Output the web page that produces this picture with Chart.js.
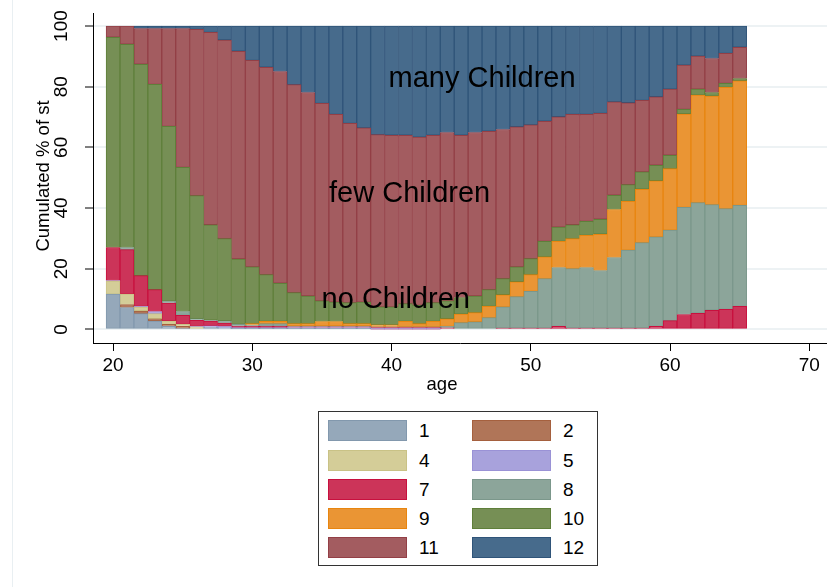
<!DOCTYPE html>
<html>
<head>
<meta charset="utf-8">
<script src="https://cdn.jsdelivr.net/npm/chart.js@4.4.1/dist/chart.umd.min.js"></script>
<style>
  html, body { margin: 0; padding: 0; background: #fff; }
  #wrap { position: relative; width: 827px; height: 587px; overflow: hidden;
          font-family: "Liberation Sans", Arial, sans-serif; }
  #edge { position: absolute; left: 12px; top: 0; width: 0; height: 587px; border-left: 1px solid #e9eff2; }
  #chart { position: absolute; left: 0; top: 0; }
  #legend { position: absolute; left: 318px; top: 411px; width: 278px; height: 153px;
            border: 1px solid #333; background: #fff; }
  .item { position: absolute; height: 21px; display: flex; align-items: center; }
  .sw { width: 77px; height: 19px; border: 1px solid; box-sizing: content-box; }
  .lab { font-size: 19px; color: #000; margin-left: 12px; line-height: 21px; }
</style>
</head>
<body>
<div id="wrap">
  <div id="edge"></div>
  <canvas id="chart" width="827" height="587"></canvas>
  <div id="legend"></div>
</div>
<script>
const FONT = '"Liberation Sans", Arial, sans-serif';

// age of each bar
const ages = [20,21,22,23,24,25,26,27,28,29,30,31,32,33,34,35,36,37,38,39,
              40,41,42,43,44,45,46,47,48,49,50,51,52,53,54,55,56,57,58,59,
              60,61,62,63,64,65];

// share (%) of each state at each age, ages 20..65
const s1  = [11.6,7.2,5.2,2.75,1.0,0.3,0,0.7,0.5,0.2, 0.2,0.2,0.2,0.2,0.2,0.2,0.2,0.2,0.2,0,
             0,0,0,0,0,0,0,0,0,0, 0,0,0,0,0,0,0,0,0,0, 0,0,0,0,0,0];
const s2  = [0,1.0,0.85,0.75,0.65,0.7,0,0,0,0, 0,0,0,0,0,0,0,0,0,0,
             0,0,0,0,0,0,0,0,0,0, 0,0,0,0,0,0,0,0,0,0, 0,0,0,0,0,0];
const s4  = [4.3,3.4,1.2,1.7,1.1,0.65,0.8,0,0,0, 0,0,0,0,0,0,0,0,0,0,
             0,0,0,0,0,0,0,0,0,0, 0,0,0,0,0,0,0,0,0,0, 0,0,0,0,0,0];
const s5  = [0.2,0,0.35,0.7,0,0,0.2,0.5,0.5,0.35, 0.35,0.35,0.35,0.4,0.4,0.4,0.4,0.4,0.4,0.1,
             0.1,0.1,0.1,0.1,0,0,0,0,0,0, 0,0,0,0,0,0,0,0,0,0, 0,0,0,0,0,0];
const s7  = [10.9,14.7,10.1,7.2,5.95,2.95,2.0,1.5,1.1,0.45, 0.45,0.45,0.45,0.2,0.2,0.2,0.2,0.2,0.2,0.5,
             0.5,0.5,0.5,0.5,0.5,0,0,0,0.4,0.4, 0.4,0.4,1.0,0.4,0.4,0.4,0.4,0.4,0.4,1.0,
             2.9,4.9,5.3,6.3,6.6,7.6];
const s8  = [0,0.7,0,0,0.6,1.3,0.5,0.3,0.65,0.65, 0.4,0.9,0.9,0.3,0.3,0.3,0.3,0.3,0.3,0.2,
             0.2,0.2,0.2,0.2,0.5,2.2,2.5,3.85,7.0,10.4, 12.1,16.3,19.4,19.6,20.0,19.0,23.3,25.7,28.2,29.5,
             29.8,35.3,36.5,34.8,33.2,33.3];
const s9  = [0,0,0,0,0,0,0,0,0,0, 0.5,0.75,0.75,0.8,0.8,1.5,1.5,0.8,0.8,0.7,
             0.7,1.85,1.1,1.85,2.5,2.8,3.0,3.75,4.0,4.9, 5.55,7.2,8.6,9.9,10.6,11.95,15.8,16.1,17.6,18.5,
             20.3,30.8,35.4,35.8,40.0,41.0];
const s10 = [69.3,67.0,69.7,67.65,57.6,47.5,40.6,31.5,27.15,21.55, 18.7,15.4,12.55,10.2,9.1,6.8,6.4,6.9,7.1,5.9,
             5.9,5.85,6.0,6.15,5.9,5.5,5.5,5.5,5.3,4.9, 5.25,5.1,4.7,4.6,4.6,4.95,4.7,5.5,5.7,5.1,
             4.4,1.5,2.0,1.2,1.3,0.8];
const s11 = [3.7,6.0,11.8,18.45,32.3,45.8,54.8,63.4,65.5,68.5, 68.1,68.35,69.8,68.6,67.1,65.1,61.9,59.1,57.4,56.8,
             56.6,55.5,55.5,55.2,55.5,53.5,53.9,52.2,49.2,46.2, 44.1,39.6,36.4,36.4,35.3,34.9,30.8,27.0,23.6,22.6,
             21.8,14.6,10.9,11.2,9.9,10.3];
const s12 = [0,0,0.8,0.8,0.8,0.8,1.1,2.1,4.6,8.3, 11.3,13.6,15.0,19.3,21.9,25.5,29.1,32.1,33.6,35.8,
             36.0,36.0,36.6,36.0,35.1,36.0,35.1,34.7,34.1,33.2, 32.6,31.4,29.9,29.1,29.1,28.8,25.0,25.3,24.5,23.3,
             20.8,12.9,9.9,10.7,9.0,7.0];

const seriesNames  = ['1','2','4','5','7','8','9','10','11','12'];
const seriesValues = [s1, s2, s4, s5, s7, s8, s9, s10, s11, s12];
const fillColors = ['#95a8ba','#b07558','#d4cd98','#a8a2dc','#cc3459','#8ca59a','#ea9534','#768f55','#a35c60','#476b8c'];
const edgeColors = ['#8298ad','#a5603e','#c9c286','#9a92d6','#c8103e','#7b978b','#e8850f','#5f7f3a','#933f46','#2f5479'];

const xTickValues = [20,30,40,50,60,70];
const yTickValues = [0,20,40,60,80,100];

// region captions, placed in data units (age, cumulated %)
const regionLabels = ['many Children','few Children','no Children'];
const regionAge    = [46.5, 41.3, 40.3];
const regionShare  = [79.9, 42.0, 6.9];

const textPlugin = {
  id: 'chartText',
  afterDraw(chart) {
    const { ctx, chartArea } = chart;
    const xs = chart.scales.x, ys = chart.scales.y;
    ctx.save();
    ctx.fillStyle = '#000';
    // rotated y tick labels
    ctx.font = '19px ' + FONT;
    ctx.textAlign = 'center';
    ctx.textBaseline = 'middle';
    yTickValues.forEach(v => {
      ctx.save();
      ctx.translate(62, ys.getPixelForValue(v));
      ctx.rotate(-Math.PI / 2);
      ctx.fillText(String(v), 0, 0);
      ctx.restore();
    });
    // axis titles
    ctx.font = '18.5px ' + FONT;
    ctx.save();
    ctx.translate(44, (chartArea.top + chartArea.bottom) / 2 - 2);
    ctx.rotate(-Math.PI / 2);
    ctx.fillText('Cumulated % of st', 0, 0);
    ctx.restore();
    ctx.fillText('age', 442, 385);
    // region captions
    ctx.font = '29px ' + FONT;
    ctx.textBaseline = 'alphabetic';
    regionLabels.forEach((t, i) => {
      ctx.fillText(t, xs.getPixelForValue(regionAge[i]), ys.getPixelForValue(regionShare[i]));
    });
    ctx.restore();
  }
};

new Chart(document.getElementById('chart'), {
  type: 'bar',
  data: {
    datasets: seriesValues.map((vals, i) => ({
      label: seriesNames[i],
      data: ages.map((a, j) => ({ x: a, y: vals[j] > 0 ? vals[j] : null })),
      backgroundColor: fillColors[i],
      borderColor: edgeColors[i],
      borderWidth: 1,
      borderSkipped: false,
      barPercentage: 1,
      categoryPercentage: 1
    }))
  },
  options: {
    responsive: false,
    animation: false,
    layout: { padding: { top: 13, right: 0, left: 0, bottom: 0 } },
    plugins: { legend: { display: false }, tooltip: { enabled: false } },
    scales: {
      x: {
        type: 'linear', stacked: true, min: 18.56, max: 71.27, offset: false,
        afterBuildTicks: s => { s.ticks = xTickValues.map(v => ({ value: v })); },
        afterFit: s => { s.height = 244; },
        grid: { offset: false, drawOnChartArea: false, drawTicks: true, tickLength: 8, tickColor: '#000', tickWidth: 1 },
        border: { display: true, color: '#000', width: 1 },
        ticks: { color: '#000', font: { size: 19, family: FONT }, padding: 3, maxRotation: 0, autoSkip: false }
      },
      y: {
        type: 'linear', stacked: true, min: -4.5, max: 104.3,
        afterBuildTicks: s => { s.ticks = yTickValues.map(v => ({ value: v })); },
        afterFit: s => { s.width = 93; },
        grid: { color: '#edf2f4', lineWidth: 2, tickColor: '#000', tickLength: 8, tickWidth: 1 },
        border: { display: true, color: '#000', width: 1 },
        ticks: { display: false }
      }
    }
  },
  plugins: [textPlugin]
});

// legend box, two columns
const legend = document.getElementById('legend');
const colLeft = [9, 153];
const rowTop = [8, 37.5, 66.5, 96, 125];
seriesNames.forEach((name, i) => {
  const item = document.createElement('div');
  item.className = 'item';
  item.style.left = colLeft[i % 2] + 'px';
  item.style.top = rowTop[Math.floor(i / 2)] + 'px';
  const sw = document.createElement('div');
  sw.className = 'sw';
  sw.style.background = fillColors[i];
  sw.style.borderColor = edgeColors[i];
  const lab = document.createElement('span');
  lab.className = 'lab';
  lab.textContent = name;
  item.appendChild(sw);
  item.appendChild(lab);
  legend.appendChild(item);
});
</script>
</body>
</html>
